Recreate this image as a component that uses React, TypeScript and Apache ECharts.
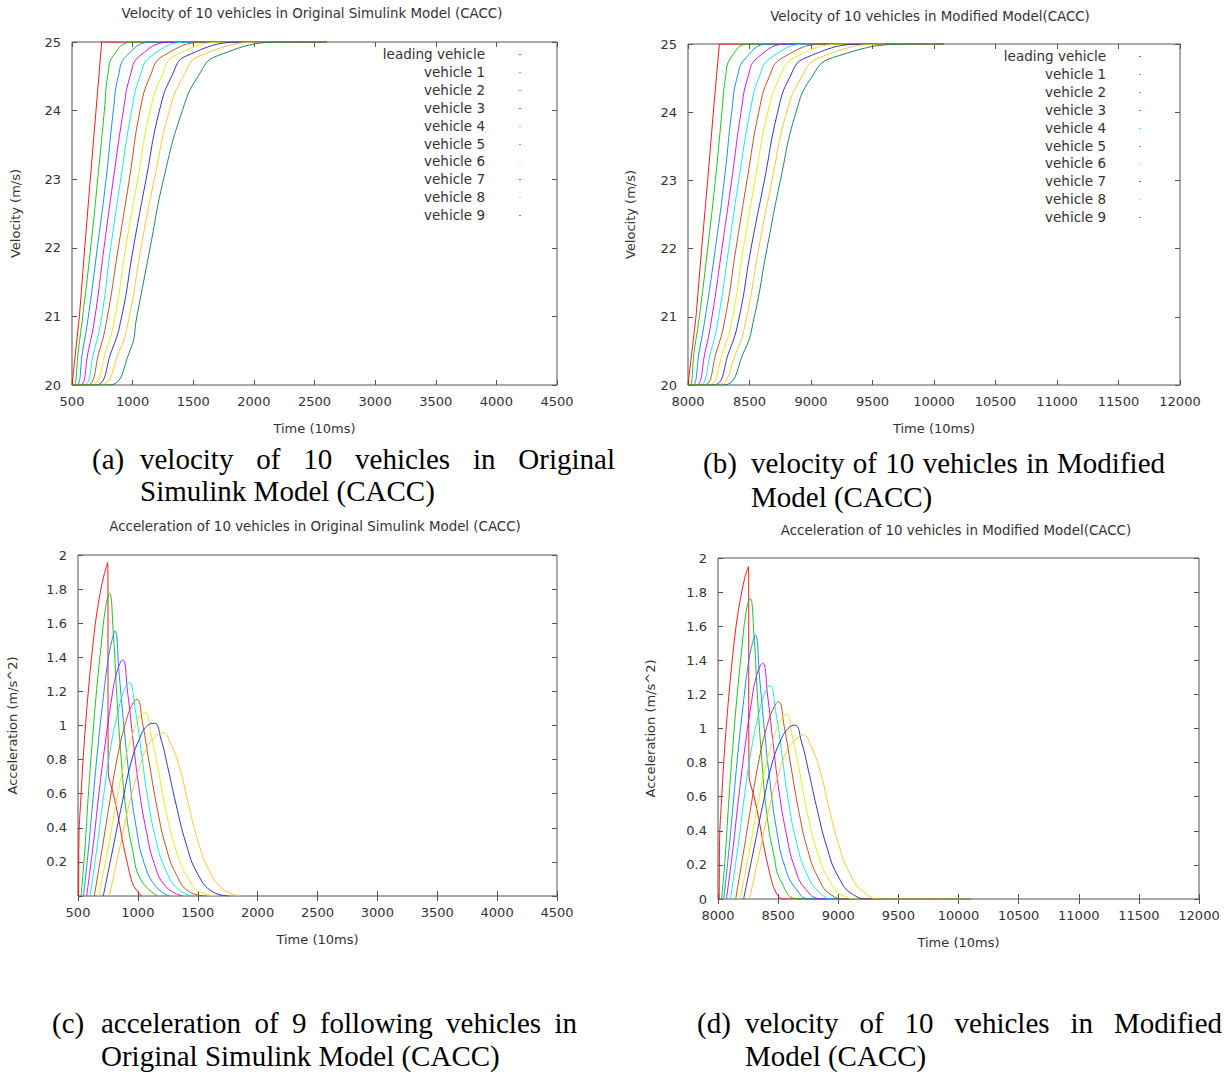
import React, { useEffect, useRef } from "react";
import * as echarts from "echarts";

// ---------- data ----------
const VEHICLE_NAMES = [
  "leading vehicle", "vehicle 1", "vehicle 2", "vehicle 3", "vehicle 4",
  "vehicle 5", "vehicle 6", "vehicle 7", "vehicle 8", "vehicle 9",
];
const COLORS = [
  "#ff0000", "#00c000", "#0080ff", "#c000ff", "#00e8e8",
  "#c04000", "#e8e800", "#2020c0", "#ffc020", "#008040",
];

const X_TICKS_ORIG = [500, 4500, 500];
const X_TICKS_MOD = [8000, 12000, 500];
const Y_TICKS_VEL = [20, 25, 1];
const Y_TICKS_ACC = [0, 2, 0.2];

// (a) velocity, original model  [time (10ms), m/s]
const velA_lead = [[500, 20], [561, 21], [605, 22], [651, 23], [698, 24], [745, 25], [2600, 25]];
const velA_v1 = [[500, 20], [517, 20], [552, 20.5], [588, 21], [654, 22], [712, 23], [767, 24], [794, 24.5], [841, 24.8], [1006, 25], [2600, 25]];
const velA_v2 = [[500, 20], [539, 20], [588, 20.5], [635, 21], [709, 22], [781, 23], [841, 24], [882, 24.5], [951, 24.8], [1171, 25], [2600, 25]];
const velA_v3 = [[500, 20], [566, 20], [635, 20.5], [690, 21], [764, 22], [841, 23], [924, 24], [979, 24.5], [1061, 24.8], [1336, 25], [2600, 25]];
const velA_v4 = [[500, 20], [594, 20], [682, 20.5], [745, 21], [819, 22], [902, 23], [992, 24], [1061, 24.5], [1157, 24.8], [1474, 25], [2600, 25]];
const velA_v5 = [[500, 20], [621, 20], [726, 20.5], [792, 21], [882, 22], [973, 23], [1061, 24], [1144, 24.5], [1254, 24.8], [1639, 25], [2600, 25]];
const velA_v6 = [[500, 20], [654, 20], [781, 20.5], [855, 21], [943, 22], [1042, 23], [1144, 24], [1240, 24.5], [1350, 24.8], [1804, 25], [2600, 25]];
const velA_v7 = [[500, 20], [690, 20], [827, 20.5], [910, 21], [1006, 22], [1111, 23], [1221, 24], [1322, 24.5], [1446, 24.8], [1969, 25], [2600, 25]];
const velA_v8 = [[500, 20], [726, 20], [891, 20.5], [973, 21], [1069, 22], [1179, 23], [1303, 24], [1419, 24.5], [1556, 24.8], [2134, 25], [2600, 25]];
const velA_v9 = [[500, 20], [800, 20], [978, 20.5], [1035, 21], [1144, 22], [1255, 23], [1410, 24], [1540, 24.5], [1700, 24.8], [2300, 25], [2600, 25]];

// (b) velocity, modified model
const velB_lead = [[8000, 20], [8005, 20], [8065, 21], [8111, 22], [8160, 23], [8206, 24], [8255, 25], [10080, 25]];
const velB_v1 = [[8000, 20], [8016, 20], [8051, 20.5], [8092, 21], [8160, 22], [8222, 23], [8276, 24], [8304, 24.5], [8350, 24.8], [8499, 25], [10080, 25]];
const velB_v2 = [[8000, 20], [8038, 20], [8092, 20.5], [8141, 21], [8222, 22], [8295, 23], [8355, 24], [8398, 24.5], [8472, 24.8], [8661, 25], [10080, 25]];
const velB_v3 = [[8000, 20], [8065, 20], [8141, 20.5], [8195, 21], [8276, 22], [8355, 23], [8431, 24], [8485, 24.5], [8566, 24.8], [8824, 25], [10080, 25]];
const velB_v4 = [[8000, 20], [8092, 20], [8187, 20.5], [8249, 21], [8331, 22], [8412, 23], [8504, 24], [8575, 24.5], [8675, 24.8], [8986, 25], [10080, 25]];
const velB_v5 = [[8000, 20], [8125, 20], [8233, 20.5], [8304, 21], [8390, 22], [8480, 23], [8575, 24], [8656, 24.5], [8770, 24.8], [9149, 25], [10080, 25]];
const velB_v6 = [[8000, 20], [8160, 20], [8287, 20.5], [8363, 21], [8450, 22], [8545, 23], [8648, 24], [8743, 24.5], [8864, 24.8], [9312, 25], [10080, 25]];
const velB_v7 = [[8000, 20], [8201, 20], [8336, 20.5], [8417, 21], [8512, 22], [8621, 23], [8729, 24], [8824, 24.5], [8959, 24.8], [9501, 25], [10080, 25]];
const velB_v8 = [[8000, 20], [8233, 20], [8396, 20.5], [8477, 21], [8575, 22], [8683, 23], [8802, 24], [8919, 24.5], [9068, 24.8], [9664, 25], [10080, 25]];
const velB_v9 = [[8000, 20], [8282, 20], [8458, 20.5], [8539, 21], [8642, 22], [8751, 23], [8878, 24], [9000, 24.5], [9176, 24.8], [9881, 25], [10080, 25]];

// (c) acceleration, original model  [time (10ms), m/s^2]
const accC_1 = [[505, 0], [509, 0.38], [522, 0.55], [547, 0.85], [575, 1.11], [603, 1.33], [645, 1.6], [686, 1.78], [720, 1.89], [748, 1.955], [753, 0.72], [795, 0.6], [836, 0.465], [870, 0.33], [906, 0.21], [960, 0.065], [1030, 0]];
const accC_2 = [[525, 0], [553, 0.23], [589, 0.62], [622, 0.93], [656, 1.21], [692, 1.46], [728, 1.68], [762, 1.775], [795, 1.54], [823, 1.19], [859, 0.82], [901, 0.5], [956, 0.27], [1026, 0.094], [1165, 0]];
const accC_3 = [[545, 0], [581, 0.23], [622, 0.54], [664, 0.86], [706, 1.13], [748, 1.37], [784, 1.5], [809, 1.554], [845, 1.29], [887, 0.97], [928, 0.7], [984, 0.41], [1054, 0.19], [1151, 0.055], [1262, 0]];
const accC_4 = [[572, 0], [622, 0.27], [678, 0.62], [728, 0.9], [775, 1.13], [823, 1.31], [873, 1.384], [915, 1.19], [956, 0.94], [1012, 0.62], [1068, 0.39], [1137, 0.19], [1234, 0.055], [1374, 0]];
const accC_5 = [[600, 0], [656, 0.27], [720, 0.62], [775, 0.88], [831, 1.07], [887, 1.21], [928, 1.251], [979, 1.09], [1026, 0.86], [1081, 0.58], [1151, 0.33], [1234, 0.15], [1346, 0.035], [1471, 0]];
const accC_6 = [[636, 0], [700, 0.27], [762, 0.54], [831, 0.82], [895, 1.01], [951, 1.12], [992, 1.153], [1040, 1.01], [1095, 0.78], [1165, 0.5], [1234, 0.29], [1318, 0.13], [1429, 0.025], [1568, 0]];
const accC_7 = [[673, 0], [748, 0.27], [817, 0.54], [887, 0.78], [956, 0.95], [1012, 1.05], [1059, 1.077], [1109, 0.95], [1165, 0.76], [1234, 0.5], [1318, 0.27], [1415, 0.11], [1541, 0.016], [1680, 0]];
const accC_8 = [[711, 0], [789, 0.27], [873, 0.56], [942, 0.78], [1012, 0.92], [1081, 1.0], [1137, 1.013], [1193, 0.92], [1248, 0.76], [1318, 0.54], [1401, 0.31], [1499, 0.13], [1624, 0.025], [1763, 0]];
const accC_9 = [[762, 0], [845, 0.27], [928, 0.54], [998, 0.72], [1068, 0.86], [1137, 0.93], [1207, 0.958], [1276, 0.89], [1346, 0.76], [1415, 0.56], [1499, 0.33], [1596, 0.15], [1721, 0.035], [1860, 0]];

// (d) acceleration, modified model
const accD_1 = [[8010, 0], [8014, 0.38], [8027, 0.55], [8052, 0.85], [8080, 1.11], [8108, 1.33], [8150, 1.6], [8191, 1.78], [8225, 1.89], [8253, 1.949], [8258, 0.72], [8300, 0.6], [8341, 0.465], [8375, 0.33], [8411, 0.21], [8465, 0.065], [8535, 0], [10100, 0]];
const accD_2 = [[8030, 0], [8058, 0.23], [8094, 0.62], [8127, 0.93], [8161, 1.21], [8197, 1.46], [8233, 1.68], [8267, 1.763], [8300, 1.54], [8328, 1.19], [8364, 0.82], [8406, 0.5], [8461, 0.27], [8531, 0.094], [8670, 0], [10100, 0]];
const accD_3 = [[8047, 0], [8083, 0.23], [8124, 0.54], [8166, 0.86], [8208, 1.13], [8250, 1.37], [8286, 1.5], [8311, 1.548], [8347, 1.29], [8389, 0.97], [8430, 0.7], [8486, 0.41], [8556, 0.19], [8653, 0.055], [8764, 0], [10100, 0]];
const accD_4 = [[8070, 0], [8120, 0.27], [8176, 0.62], [8226, 0.9], [8273, 1.13], [8321, 1.31], [8371, 1.382], [8413, 1.19], [8454, 0.94], [8510, 0.62], [8566, 0.39], [8635, 0.19], [8732, 0.055], [8872, 0], [10100, 0]];
const accD_5 = [[8103, 0], [8159, 0.27], [8223, 0.62], [8278, 0.88], [8334, 1.07], [8390, 1.21], [8431, 1.251], [8482, 1.09], [8529, 0.86], [8584, 0.58], [8654, 0.33], [8737, 0.15], [8849, 0.035], [8974, 0], [10100, 0]];
const accD_6 = [[8147, 0], [8211, 0.27], [8273, 0.54], [8342, 0.82], [8406, 1.01], [8462, 1.12], [8503, 1.157], [8551, 1.01], [8606, 0.78], [8676, 0.5], [8745, 0.29], [8829, 0.13], [8940, 0.025], [9079, 0], [10100, 0]];
const accD_7 = [[8183, 0], [8258, 0.27], [8327, 0.54], [8397, 0.78], [8466, 0.95], [8522, 1.05], [8569, 1.083], [8619, 0.95], [8675, 0.76], [8744, 0.5], [8828, 0.27], [8925, 0.11], [9051, 0.016], [9190, 0], [10100, 0]];
const accD_8 = [[8213, 0], [8291, 0.27], [8375, 0.56], [8444, 0.78], [8514, 0.92], [8583, 1.0], [8639, 1.02], [8695, 0.92], [8750, 0.76], [8820, 0.54], [8903, 0.31], [9001, 0.13], [9126, 0.025], [9265, 0], [10100, 0]];
const accD_9 = [[8262, 0], [8345, 0.27], [8428, 0.54], [8498, 0.72], [8568, 0.86], [8637, 0.93], [8707, 0.962], [8776, 0.89], [8846, 0.76], [8915, 0.56], [8999, 0.33], [9096, 0.15], [9221, 0.035], [9360, 0], [10100, 0]];

const VEL_A = [velA_lead, velA_v1, velA_v2, velA_v3, velA_v4, velA_v5, velA_v6, velA_v7, velA_v8, velA_v9];
const VEL_B = [velB_lead, velB_v1, velB_v2, velB_v3, velB_v4, velB_v5, velB_v6, velB_v7, velB_v8, velB_v9];
const ACC_C = [accC_1, accC_2, accC_3, accC_4, accC_5, accC_6, accC_7, accC_8, accC_9];
const ACC_D = [accD_1, accD_2, accD_3, accD_4, accD_5, accD_6, accD_7, accD_8, accD_9];

const TITLES = [
  "Velocity of 10 vehicles in Original Simulink Model (CACC)",
  "Velocity of 10 vehicles in Modified Model(CACC)",
  "Acceleration of 10 vehicles in Original Simulink Model (CACC)",
  "Acceleration of 10 vehicles in Modified Model(CACC)",
];
const X_NAME = "Time (10ms)";
const Y_NAMES = ["Velocity (m/s)", "Velocity (m/s)", "Acceleration (m/s^2)", "Acceleration (m/s^2)"];

const CAPTIONS = [
  { label: "(a)", line1: ["velocity", "of", "10", "vehicles", "in", "Original"], line2: "Simulink Model (CACC)" },
  { label: "(b)", line1: ["velocity", "of", "10", "vehicles", "in", "Modified"], line2: "Model (CACC)" },
  { label: "(c)", line1: ["acceleration", "of", "9", "following", "vehicles", "in"], line2: "Original Simulink Model (CACC)" },
  { label: "(d)", line1: ["velocity", "of", "10", "vehicles", "in", "Modified"], line2: "Model (CACC)" },
];

// ---------- layout ----------
const PLOT_FONT = "DejaVu Sans";
const SERIF = "Liberation Serif";
const TEXT = "#333";
const BORDER = "#555";

const PANELS = [
  { grid: { left: 72, top: 42, width: 485, height: 343 }, x: X_TICKS_ORIG, y: Y_TICKS_VEL, title: [312, 14], yGap: 50, hideZero: false, legend: { textRight: 485, marker: 519, top: 54 } },
  { grid: { left: 688, top: 44, width: 492, height: 341 }, x: X_TICKS_MOD, y: Y_TICKS_VEL, title: [930, 17], yGap: 51, hideZero: false, legend: { textRight: 1106, marker: 1139, top: 56 } },
  { grid: { left: 78, top: 555, width: 479, height: 341 }, x: X_TICKS_ORIG, y: Y_TICKS_ACC, title: [315, 527], yGap: 59, hideZero: true, legend: null },
  { grid: { left: 718, top: 558, width: 481, height: 341 }, x: X_TICKS_MOD, y: Y_TICKS_ACC, title: [956, 531], yGap: 61, hideZero: false, legend: null },
];
const CAPTION_POS = [
  { labelX: 92, x0: 140, x1: 615, y1: 459, y2: 491 },
  { labelX: 703, x0: 751, x1: 1165, y1: 463, y2: 497 },
  { labelX: 52, x0: 101, x1: 577, y1: 1023, y2: 1056 },
  { labelX: 697, x0: 745, x1: 1222, y1: 1023, y2: 1056 },
];
const CAPTION_SIZE = 29;
const PLOT_SIZE = 13;
const TITLE_SIZE = 13.4;

function fmtTick(v: number, hideZero: boolean) {
  const r = Math.round(v * 10) / 10;
  if (hideZero && r === 0) return "";
  return String(r);
}

function measure(text: string, size: number, family: string) {
  const ctx = document.createElement("canvas").getContext("2d") as CanvasRenderingContext2D;
  ctx.font = `${size}px "${family}"`;
  return ctx.measureText(text).width;
}

function captionElements() {
  const els: any[] = [];
  CAPTIONS.forEach((c, i) => {
    const p = CAPTION_POS[i];
    const base = { fill: "#000", fontSize: CAPTION_SIZE, fontFamily: SERIF, textVerticalAlign: "middle", verticalAlign: "middle" };
    els.push({ type: "text", x: p.labelX, y: p.y1, style: { ...base, text: c.label, textAlign: "left", align: "left" } });
    const widths = c.line1.map((w) => measure(w, CAPTION_SIZE, SERIF));
    const total = widths.reduce((a, b) => a + b, 0);
    const gap = (p.x1 - p.x0 - total) / (c.line1.length - 1);
    let x = p.x0;
    c.line1.forEach((w, k) => {
      els.push({ type: "text", x, y: p.y1, style: { ...base, text: w, textAlign: "left", align: "left" } });
      x += widths[k] + gap;
    });
    els.push({ type: "text", x: p.x0, y: p.y2, style: { ...base, text: c.line2, textAlign: "left", align: "left" } });
  });
  return els;
}

function legendElements() {
  const els: any[] = [];
  PANELS.forEach((p) => {
    if (!p.legend) return;
    VEHICLE_NAMES.forEach((name, i) => {
      const y = p.legend!.top + i * 17.9;
      els.push({
        type: "text", x: p.legend!.textRight, y,
        style: { text: name, fill: TEXT, fontSize: 13.5, fontFamily: PLOT_FONT, textAlign: "right", align: "right", textVerticalAlign: "middle", verticalAlign: "middle" },
      });
      els.push({ type: "rect", shape: { x: p.legend!.marker, y: Math.round(y), width: 2, height: 1 }, style: { fill: COLORS[i], opacity: 0.7 } });
    });
  });
  return els;
}

function buildOption() {
  const grid: any[] = [];
  const xAxis: any[] = [];
  const yAxis: any[] = [];
  const title: any[] = [];
  const series: any[] = [];
  const tick = { inside: true, length: 5, lineStyle: { color: BORDER, width: 1 } };
  const labelStyle = { color: TEXT, fontSize: PLOT_SIZE, fontFamily: PLOT_FONT };

  PANELS.forEach((p, g) => {
    grid.push({ ...p.grid, show: true, borderColor: BORDER, borderWidth: 1, backgroundColor: "transparent", containLabel: false });
    const [xmin, xmax, xint] = p.x;
    const [ymin, ymax, yint] = p.y;
    xAxis.push({
      type: "value", gridIndex: g, min: xmin, max: xmax, interval: xint, position: "bottom",
      axisLine: { show: false }, axisTick: tick, splitLine: { show: false },
      axisLabel: { ...labelStyle, margin: 10, formatter: (v: number) => String(v) },
      name: X_NAME, nameLocation: "middle", nameGap: 37, nameTextStyle: labelStyle,
    });
    xAxis.push({
      type: "value", gridIndex: g, min: xmin, max: xmax, interval: xint, position: "top",
      axisLine: { show: false }, axisTick: tick, splitLine: { show: false }, axisLabel: { show: false },
    });
    yAxis.push({
      type: "value", gridIndex: g, min: ymin, max: ymax, interval: yint, position: "left",
      axisLine: { show: false }, axisTick: tick, splitLine: { show: false },
      axisLabel: { ...labelStyle, margin: 11, formatter: (v: number) => fmtTick(v, p.hideZero) },
      name: Y_NAMES[g], nameLocation: "middle", nameGap: p.yGap, nameRotate: 90, nameTextStyle: labelStyle,
    });
    yAxis.push({
      type: "value", gridIndex: g, min: ymin, max: ymax, interval: yint, position: "right",
      axisLine: { show: false }, axisTick: tick, splitLine: { show: false }, axisLabel: { show: false },
    });
    title.push({
      text: TITLES[g], left: p.title[0], top: p.title[1] - 7, textAlign: "center", padding: 0,
      textStyle: { color: TEXT, fontSize: TITLE_SIZE, fontWeight: "normal", fontFamily: PLOT_FONT },
    });
  });

  const addSeries = (arr: number[][][], g: number, names: string[], accel: boolean) => {
    arr.forEach((data, i) => {
      let smooth: any = 0.5;
      if (i === 0) smooth = accel ? 0.25 : false;
      series.push({
        type: "line", name: names[i], xAxisIndex: 2 * g, yAxisIndex: 2 * g, data,
        symbol: "none", showSymbol: false, smooth,
        clip: true, silent: true,
        lineStyle: { color: COLORS[i], width: 1, opacity: 0.9 }, itemStyle: { color: COLORS[i] },
      });
    });
  };
  addSeries(VEL_A, 0, VEHICLE_NAMES, false);
  addSeries(VEL_B, 1, VEHICLE_NAMES, false);
  addSeries(ACC_C, 2, VEHICLE_NAMES, true);
  addSeries(ACC_D, 3, VEHICLE_NAMES, true);

  return {
    animation: false,
    backgroundColor: "#fff",
    title, grid, xAxis, yAxis, series,
    graphic: [...legendElements(), ...captionElements()],
  };
}

export default function App() {
  const ref = useRef<HTMLDivElement>(null);
  useEffect(() => {
    if (!ref.current) return;
    const chart = echarts.init(ref.current, undefined, { renderer: "svg" });
    chart.setOption(buildOption());
    return () => chart.dispose();
  }, []);
  return (
    <div
      ref={ref}
      style={{ position: "absolute", left: 0, top: 0, width: 1231, height: 1075, background: "#fff" }}
    />
  );
}
